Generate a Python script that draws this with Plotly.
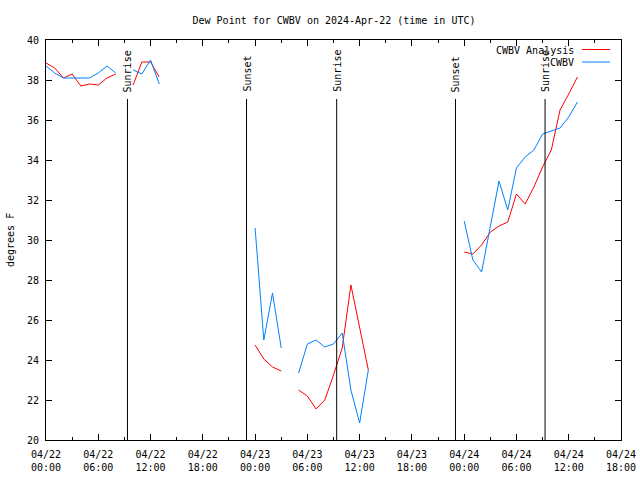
import plotly.graph_objects as go
from datetime import datetime, timedelta

# ---- data ----
start = datetime(2024, 4, 22, 0, 0)
hours = list(range(0, 62))
times = [start + timedelta(hours=h) for h in hours]

analysis = [38.85, 38.6, 38.1, 38.3, 37.7, 37.8, 37.75, 38.1, 38.3, None,
            37.75, 38.9, 38.9, 38.15,
            None, None, None, None, None, None, None, None, None, None,
            24.75, 24.05, 23.65, 23.45, None,
            22.5, 22.2, 21.55, 22.0, 23.25, 24.6, 27.75, 25.6, 23.5,
            None, None, None, None, None, None, None, None, None, None,
            29.4, 29.3, 29.75, 30.4, 30.7, 30.9, 32.3, 31.8, 32.65, 33.65,
            34.5, 36.5, 37.3, 38.15]

observed = [38.7, 38.35, 38.1, 38.1, 38.1, 38.1, 38.35, 38.7, 38.35, None,
            38.5, 38.3, 39.0, 37.8,
            None, None, None, None, None, None, None, None, None, None,
            30.6, 25.0, 27.35, 24.6, None,
            23.35, 24.8, 25.0, 24.65, 24.8, 25.35, 22.5, 20.85, 23.5,
            None, None, None, None, None, None, None, None, None, None,
            30.95, 29.0, 28.4, 30.7, 32.95, 31.5, 33.6, 34.15, 34.5, 35.3,
            35.45, 35.6, 36.15, 36.9]

event_labels = ["Sunrise", "Sunset", "Sunrise", "Sunset", "Sunrise"]
event_times = [datetime(2024, 4, 22, 9, 21), datetime(2024, 4, 22, 23, 1),
               datetime(2024, 4, 23, 9, 22), datetime(2024, 4, 23, 23, 0),
               datetime(2024, 4, 24, 9, 17)]
event_line_top = 37.05

series_names = ["CWBV Analysis", "CWBV"]
series_colors = ["#ff0000", "#0080ff"]

x_range = [datetime(2024, 4, 22, 0, 0), datetime(2024, 4, 24, 18, 0)]
y_range = [20, 40]

# ---- layout geometry (pixels) ----
W, H = 640, 480
PL, PR, PT, PB = 46, 621, 40, 440          # plot box in pixels
L, T, R, B = PL, PT, W - PR, H - PB
PW, PH = PR - PL, PB - PT
FONT = "DejaVu Sans Mono"

def px(xp):
    return (xp - PL) / PW

def py(yp):
    return (PB - yp) / PH

fig = go.Figure()
for name, vals, col in zip(series_names, [analysis, observed], series_colors):
    fig.add_trace(go.Scatter(x=times, y=vals, mode="lines", name=name,
                             line=dict(color=col, width=1), connectgaps=False,
                             showlegend=False))

shapes = []
annotations = []
for lab, t in zip(event_labels, event_times):
    shapes.append(dict(type="line", xref="x", yref="y", x0=t, x1=t,
                       y0=y_range[0], y1=event_line_top,
                       line=dict(color="black", width=1)))
    annotations.append(dict(x=t, y=37.35, xref="x", yref="y", text=lab,
                            textangle=-90, showarrow=False, xanchor="center",
                            yanchor="bottom", font=dict(family=FONT, size=10, color="black"),
                            borderpad=0))

# legend drawn manually
leg_rows = [(50, series_names[0], series_colors[0]), (62.5, series_names[1], series_colors[1])]
for yy, name, col in leg_rows:
    annotations.append(dict(x=px(575), y=py(yy), xref="paper", yref="paper", text=name,
                            showarrow=False, xanchor="right", yanchor="middle",
                            font=dict(family=FONT, size=10, color="black"), borderpad=0))
    shapes.append(dict(type="line", xref="paper", yref="paper", x0=px(582), x1=px(610),
                       y0=py(yy - 0.5), y1=py(yy - 0.5), line=dict(color=col, width=1)))

annotations.append(dict(x=px(10), y=0.5, xref="paper", yref="paper", text="degrees F",
                        textangle=-90, showarrow=False, xanchor="center", yanchor="middle",
                        font=dict(family=FONT, size=10, color="black")))

fig.update_layout(
    width=W, height=H,
    margin=dict(l=L, r=R, t=T, b=B, pad=0, autoexpand=False),
    paper_bgcolor="white", plot_bgcolor="white",
    font=dict(family=FONT, size=10, color="black"),
    title=dict(text="Dew Point for CWBV on 2024-Apr-22 (time in UTC)",
               x=334 / W, xanchor="center",
               y=1 - 20 / H, yanchor="middle",
               font=dict(family=FONT, size=10, color="black")),
    shapes=shapes, annotations=annotations, showlegend=False,
)
fig.update_xaxes(range=x_range, type="date", dtick=6 * 3600 * 1000,
                 tick0="2024-04-22 00:00", tickformat="%m/%d<br>%H:%M",
                 ticks="inside", ticklen=6, tickcolor="black", tickwidth=1,
                 minor=dict(dtick=3 * 3600 * 1000, ticks="inside", ticklen=3,
                            tickcolor="black", showgrid=False),
                 showline=True, linecolor="black", linewidth=1, mirror="ticks",
                 showgrid=False, zeroline=False, ticklabelstandoff=5, automargin=False)
fig.update_yaxes(range=y_range, dtick=2, ticks="inside", ticklen=6, tickcolor="black",
                 tickwidth=1, showline=True, linecolor="black", linewidth=1,
                 mirror="ticks", showgrid=False, zeroline=False, ticklabelstandoff=4,
                 automargin=False)

fig.write_html("out.html",
               config={"displayModeBar": False},
               post_script="document.body.style.margin='0px';"
                           "document.body.style.overflow='hidden';")
